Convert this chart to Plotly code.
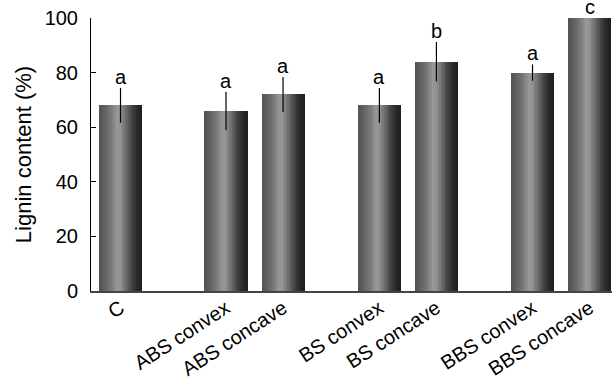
import plotly.graph_objects as go

# Treatments, grouped as they sit along the axis
groups = [["C"], ["ABS convex", "ABS concave"], ["BS convex", "BS concave"], ["BBS convex", "BBS concave"]]
categories = [c for g in groups for c in g]
lignin = [68, 66, 72, 68, 84, 80, 100]          # lignin content (%)
err = [6.4, 7.0, 6.4, 6.4, 7.2, 3.0, 0.0]       # error bar half-length
letters = ["a", "a", "a", "a", "b", "a", "c"]   # significance groups

# x positions: unit spacing inside a group, wider gap between groups
group_gaps = [1.85, 1.69, 1.685]
xpos = []
x = 0.0
for gi, g in enumerate(groups):
    if gi > 0:
        x += group_gaps[gi - 1] - 1.0
    for _ in g:
        xpos.append(x)
        x += 1.0

bar_w = 0.755
FONT = "Liberation Sans, Arial, Helvetica, sans-serif"

# Cylindrical shading across each bar (fraction across bar -> grey level)
stops = [(0.0, 82), (0.12, 95), (0.28, 120), (0.42, 152), (0.5, 146),
         (0.62, 110), (0.75, 70), (0.88, 42), (1.0, 30)]


def grey_at(t):
    for (t0, g0), (t1, g1) in zip(stops[:-1], stops[1:]):
        if t <= t1:
            f = (t - t0) / (t1 - t0) if t1 > t0 else 0
            v = int(round(g0 + f * (g1 - g0)))
            return f"rgb({v},{v},{v})"
    v = stops[-1][1]
    return f"rgb({v},{v},{v})"


fig = go.Figure()
N = 30
for i in range(N):
    start = i * bar_w / N
    fig.add_trace(go.Bar(
        x=xpos, y=lignin,
        offset=-bar_w / 2 + start,
        width=bar_w - start,
        marker=dict(color=grey_at((i + 0.5) / N), line=dict(width=0)),
        hoverinfo="skip", showlegend=False,
    ))

# error bars (no caps)
fig.add_trace(go.Scatter(
    x=xpos, y=lignin, mode="markers",
    marker=dict(size=1, opacity=0),
    error_y=dict(type="data", array=err, visible=True, color="black",
                 thickness=1.2, width=0),
    hoverinfo="skip", showlegend=False,
))

# significance letters above the error bars
for xi, yi, ei, lt in zip(xpos, lignin, err, letters):
    fig.add_annotation(x=xi, y=yi + ei, text=lt, showarrow=False,
                       yanchor="bottom", yshift=-1, borderpad=0,
                       font=dict(family=FONT, size=20, color="black"))

x_lo = xpos[0] - 0.5175
x_hi = xpos[-1] + 0.394

fig.update_layout(
    width=613, height=383,
    margin=dict(l=91, r=1, t=18, b=92),
    paper_bgcolor="white", plot_bgcolor="white",
    barmode="overlay", bargap=0,
    font=dict(family=FONT, size=20, color="black"),
    showlegend=False,
)
fig.update_xaxes(
    range=[x_lo, x_hi], automargin=False,
    tickmode="array", tickvals=xpos, ticktext=categories,
    tickangle=-33, ticks="", showgrid=False, zeroline=False,
    showline=True, linecolor="#444", linewidth=1.5,
    tickfont=dict(family=FONT, size=20, color="black"),
    ticklabelstandoff=-4,
)
fig.update_yaxes(
    range=[0, 100], tickvals=[0, 20, 40, 60, 80, 100], automargin=False,
    ticks="inside", ticklen=5, tickcolor="black", tickwidth=1,
    showgrid=False, zeroline=False,
    showline=True, linecolor="black", linewidth=1,
    tickfont=dict(family=FONT, size=20, color="black"),
    ticklabelstandoff=8,
    title=dict(text="Lignin content (%)", standoff=6,
               font=dict(family=FONT, size=22, color="black")),
)

fig.write_html("out.html")
